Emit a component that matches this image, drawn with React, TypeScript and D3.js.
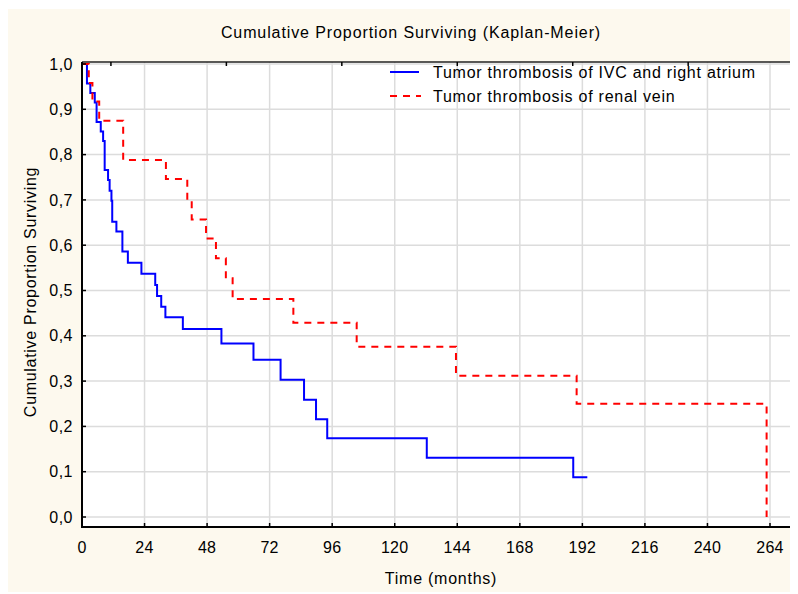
import React from "react";
import * as d3 from "d3";

// ---- data ----
const xTicks = [0, 24, 48, 72, 96, 120, 144, 168, 192, 216, 240, 264];
const yTicks = [0, 0.1, 0.2, 0.3, 0.4, 0.5, 0.6, 0.7, 0.8, 0.9, 1.0];
const topTicks = [11.1, 55.4, 99.7, 144, 188.3, 232.6];
const rightTicks = [0.985, 0.817, 0.649, 0.481, 0.313, 0.143];

const seriesNames = [
  "Tumor thrombosis of IVC and right atrium",
  "Tumor thrombosis of renal vein",
];

const blueTimes = [0, 1.9, 3.2, 4.9, 5.6, 7.2, 8.1, 8.7, 10.0, 10.6, 11.3, 11.6, 13.2, 15.5, 17.6, 22.8, 28.1, 28.8, 30.4, 32.0, 38.7, 53.5, 65.8, 76.2, 85.2, 89.8, 94.1, 132.3, 188.5, 193.9];
const blueSurv = [1.0, 0.957, 0.936, 0.915, 0.872, 0.851, 0.830, 0.766, 0.744, 0.720, 0.698, 0.652, 0.630, 0.586, 0.561, 0.537, 0.512, 0.488, 0.464, 0.441, 0.415, 0.383, 0.347, 0.303, 0.259, 0.216, 0.174, 0.131, 0.088, 0.088];

const redTimes = [0, 2.6, 4.0, 6.6, 15.8, 32.2, 40.4, 42.1, 47.6, 51.4, 55.2, 57.8, 81.1, 105.4, 143.5, 189.8, 262.7];
const redSurv = [1.0, 0.958, 0.917, 0.875, 0.788, 0.746, 0.700, 0.657, 0.615, 0.571, 0.527, 0.481, 0.429, 0.376, 0.312, 0.250, 0.0];

const FONT = "'Liberation Sans', Arial, Helvetica, sans-serif";

export default function App() {
  const x = d3.scaleLinear().domain([0, 264]).range([82, 770]);
  const y = d3.scaleLinear().domain([0, 1]).range([517, 64]);
  const plotLeft = 82;
  const plotRight = 802;
  const plotTop = 62;
  const plotBottom = 527;

  const line = d3
    .line<[number, number]>()
    .x((d) => x(d[0]))
    .y((d) => y(d[1]))
    .curve(d3.curveStepAfter);

  const blueData: [number, number][] = blueTimes.map((t, i) => [t, blueSurv[i]]);
  const redData: [number, number][] = redTimes.map((t, i) => [t, redSurv[i]]);

  const fmtY = (v: number) => d3.format(".1f")(v).replace(".", ",");

  return (
    <svg width={790} height={586} style={{ display: "block" }}>
      <g transform="translate(-8,-8)">
        <rect x={8} y={9} width={792} height={583} fill="#fdf9ee" />
        <rect x={plotLeft} y={plotTop} width={plotRight - plotLeft} height={plotBottom - plotTop} fill="#ffffff" />

        {/* grid */}
        {xTicks.filter((t) => t > 0).map((t) => (
          <line key={"gx" + t} x1={x(t)} x2={x(t)} y1={plotTop} y2={plotBottom} stroke="#dcdcdc" strokeWidth={1.5} />
        ))}
        {yTicks.map((t) => (
          <line key={"gy" + t} x1={plotLeft} x2={plotRight} y1={y(t)} y2={y(t)} stroke="#dcdcdc" strokeWidth={1.5} />
        ))}

        {/* series */}
        <path d={line(blueData) || ""} fill="none" stroke="#0000ff" strokeWidth={2} />
        <path d={line(redData) || ""} fill="none" stroke="#ff0000" strokeWidth={2} strokeDasharray="7 6" />

        {/* frame */}
        <line x1={plotLeft} x2={plotRight} y1={plotTop} y2={plotTop} stroke="#222" strokeWidth={1.5} />
        <line x1={plotLeft} x2={plotLeft} y1={plotTop} y2={plotBottom + 1} stroke="#000" strokeWidth={2} />
        <line x1={plotLeft - 1} x2={plotRight} y1={plotBottom} y2={plotBottom} stroke="#000" strokeWidth={2} />

        {/* ticks */}
        {xTicks.map((t) => (
          <line key={"tx" + t} x1={x(t)} x2={x(t)} y1={plotBottom} y2={plotBottom - 4} stroke="#000" strokeWidth={1.5} />
        ))}
        {yTicks.map((t) => (
          <line key={"ty" + t} x1={plotLeft} x2={plotLeft + 4} y1={y(t)} y2={y(t)} stroke="#000" strokeWidth={1.5} />
        ))}
        {topTicks.map((t) => (
          <line key={"tt" + t} x1={x(t)} x2={x(t)} y1={plotTop} y2={plotTop + 4} stroke="#000" strokeWidth={1.5} />
        ))}
        {rightTicks.map((t) => (
          <line key={"tr" + t} x1={796} x2={800} y1={y(t)} y2={y(t)} stroke="#888" strokeWidth={1.5} />
        ))}

        {/* tick labels */}
        {xTicks.map((t) => (
          <text key={"lx" + t} x={x(t)} y={553} textAnchor="middle" fontFamily={FONT} fontSize={16} letterSpacing={0.3} fill="#000">
            {t}
          </text>
        ))}
        {yTicks.map((t) => (
          <text key={"ly" + t} x={73} y={y(t)} dy="0.35em" textAnchor="end" fontFamily={FONT} fontSize={16} letterSpacing={0.5} fill="#000">
            {fmtY(t)}
          </text>
        ))}

        {/* titles */}
        <text x={411} y={38} textAnchor="middle" fontFamily={FONT} fontSize={16} letterSpacing={0.9} fill="#000">
          Cumulative Proportion Surviving (Kaplan-Meier)
        </text>
        <text x={441} y={584} textAnchor="middle" fontFamily={FONT} fontSize={16} letterSpacing={0.75} fill="#000">
          Time (months)
        </text>
        <text transform="translate(36,292) rotate(-90)" textAnchor="middle" fontFamily={FONT} fontSize={16} letterSpacing={0.7} fill="#000">
          Cumulative Proportion Surviving
        </text>

        {/* legend */}
        <line x1={390} x2={419} y1={72} y2={72} stroke="#0000ff" strokeWidth={2} />
        <text x={433} y={72} dy="0.35em" fontFamily={FONT} fontSize={16} letterSpacing={0.75} fill="#000">
          {seriesNames[0]}
        </text>
        <line x1={390} x2={421} y1={96} y2={96} stroke="#ff0000" strokeWidth={2} strokeDasharray="7 6" />
        <text x={433} y={96} dy="0.35em" fontFamily={FONT} fontSize={16} letterSpacing={0.75} fill="#000">
          {seriesNames[1]}
        </text>
      </g>
    </svg>
  );
}
